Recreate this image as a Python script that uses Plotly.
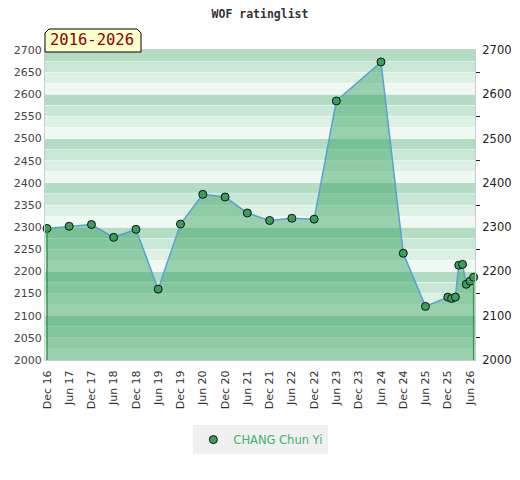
import plotly.graph_objects as go

# monthly rating list values for the player
player = "CHANG Chun Yi"
period = "2016-2026"
dates = [
    "2016-12-01", "2017-06-01", "2017-12-01", "2018-06-01", "2018-12-01",
    "2019-06-01", "2019-12-01", "2020-06-01", "2020-12-01", "2021-06-01",
    "2021-12-01", "2022-06-01", "2022-12-01", "2023-06-01", "2024-06-01",
    "2024-12-01", "2025-06-01", "2025-12-01", "2026-01-01", "2026-02-01",
    "2026-03-01", "2026-04-01", "2026-05-01", "2026-06-01", "2026-07-01",
]
ratings = [
    2297, 2302, 2306, 2277, 2295,
    2160, 2307, 2374, 2368, 2332,
    2315, 2320, 2318, 2585, 2673,
    2241, 2121, 2142, 2139, 2142,
    2214, 2216, 2171, 2178, 2187,
]
y_min, y_max = 2000, 2700
x_start, x_end = "2016-11-15", "2026-07-12"

band_colors = ["#b3ddc3", "#c9e7d5", "#dcf0e4", "#eff8f2"]

fig = go.Figure()

# rating area + line
fig.add_trace(go.Scatter(
    x=dates, y=ratings, mode="lines+markers",
    fill="tozeroy", fillcolor="rgba(48,160,90,0.45)",
    line=dict(color="#5aa0d6", width=1.5),
    marker=dict(size=8, color="#3a9f5c", line=dict(color="#111", width=1)),
    cliponaxis=False, showlegend=False,
))

# green edges of the filled area
fig.add_trace(go.Scatter(
    x=[dates[0], dates[0], None, dates[-1], dates[-1]],
    y=[y_min, ratings[0], None, y_min, ratings[-1]],
    mode="lines", line=dict(color="#2f9a4c", width=1.5),
    showlegend=False, hoverinfo="skip",
))

# legend entry (marker only)
fig.add_trace(go.Scatter(
    x=[None], y=[None], mode="markers", name=player, yaxis="y2",
    marker=dict(size=8, color="#3a9f5c", line=dict(color="#111", width=1)),
))

# striped background bands, 25 points each
shapes = []
for i, lo in enumerate(range(y_min, y_max, 25)):
    shapes.append(dict(
        type="rect", xref="paper", yref="y", layer="below",
        x0=0, x1=1, y0=lo, y1=lo + 25, line=dict(width=0),
        fillcolor=band_colors[3 - i % 4],
    ))

# period badge with cut corners
shapes.append(dict(
    type="path", xref="paper", yref="paper",
    xsizemode="pixel", ysizemode="pixel", xanchor=0, yanchor=1,
    path="M 0,-2 L 0,17 L 4,21 L 92,21 L 96,17 L 96,-2 Z",
    fillcolor="#ffffcc", line=dict(color="#000", width=1), layer="above",
))

fig.update_layout(
    width=520, height=480,
    # the page adds an 8px body margin, so the margins are shifted to compensate
    margin=dict(l=37, r=53, t=42, b=128),
    paper_bgcolor="white", plot_bgcolor="white",
    title=dict(text="<b>WOF ratinglist</b>", x=0.5, xref="paper", y=0.987,
               xanchor="center", yanchor="middle",
               font=dict(family="DejaVu Sans Mono", size=11.5, color="#333")),
    font=dict(family="DejaVu Sans", size=11, color="#444"),
    shapes=shapes,
    annotations=[dict(
        text=period, xref="paper", yref="paper", x=0, y=1,
        xanchor="center", yanchor="middle", xshift=47, yshift=10,
        showarrow=False, font=dict(family="DejaVu Sans Mono", size=15.5, color="#8b0000"),
    )],
    xaxis=dict(
        type="date", range=[x_start, x_end], automargin=False,
        tick0="2016-12-01", dtick="M6", tickformat="%b %y", tickangle=-90,
        showgrid=False, showline=True, linecolor="#cccccc", mirror=True,
        ticks="", ticklabelstandoff=5, tickfont=dict(size=11, color="#333"),
    ),
    yaxis=dict(
        range=[y_min, y_max], dtick=50, showline=True, linecolor="#cccccc",
        automargin=False,
        showgrid=True, gridcolor="rgba(255,255,255,0.45)", gridwidth=1,
        minor=dict(dtick=25, showgrid=True, gridcolor="rgba(255,255,255,0.45)"),
        zeroline=False, ticks="", tickfont=dict(size=11, color="#444"),
    ),
    yaxis2=dict(
        range=[y_min, y_max], overlaying="y", side="right", dtick=100,
        automargin=False,
        showline=True, linecolor="#cccccc", showgrid=False, zeroline=False,
        ticks="", minor=dict(dtick=50, ticks="outside", ticklen=4, tickcolor="#222"),
        ticklabelstandoff=4, tickfont=dict(size=11.5, color="#222"),
    ),
    legend=dict(
        orientation="h", x=0.345, xanchor="left", y=-0.21, yanchor="top",
        bgcolor="#f0f0f0", font=dict(size=11.5, color="#3cb371"),
    ),
)

fig.write_html("out.html")
